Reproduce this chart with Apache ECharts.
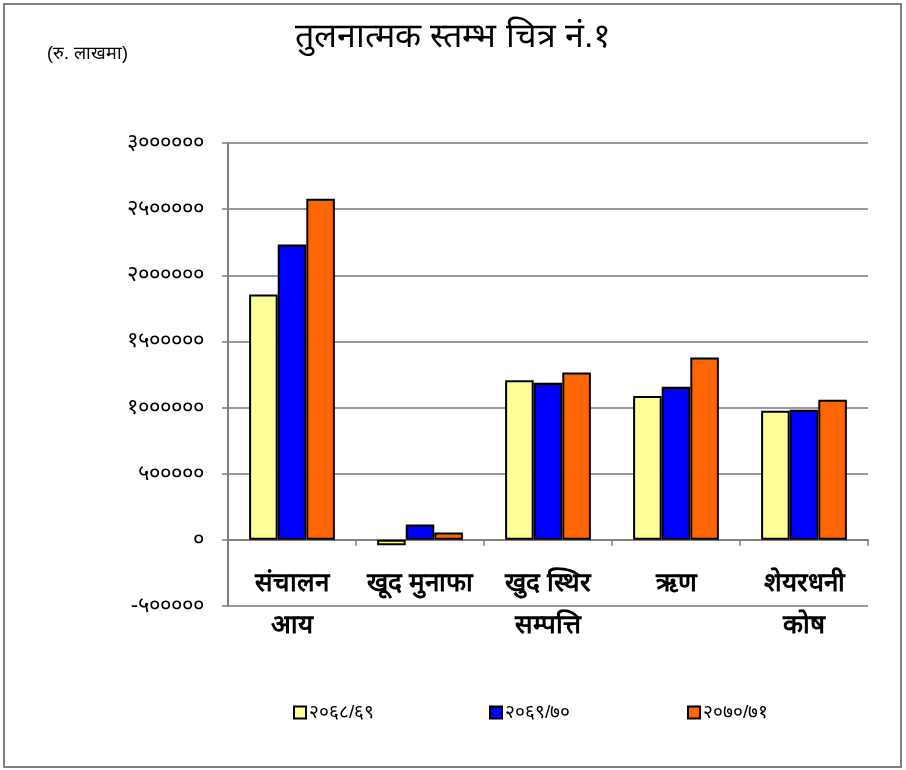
<!DOCTYPE html>
<html>
<head>
<meta charset="utf-8">
<script src="https://cdn.jsdelivr.net/npm/echarts@6/dist/echarts.min.js"></script>
<style>
html,body{margin:0;padding:0;background:#fff;}
#c{width:906px;height:770px;}
</style>
</head>
<body>
<div id="c"></div>
<script>
const titleText = 'तुलनात्मक स्तम्भ चित्र नं.१';
const unitText = '(रु. लाखमा)';
const categories = ['संचालन\nआय', 'खूद मुनाफा', 'खुद स्थिर\nसम्पत्ति', 'ऋण', 'शेयरधनी\nकोष'];
const seriesNames = ['२०६८/६९', '२०६९/७०', '२०७०/७१'];
const s2068 = [1855000, -40000, 1206000, 1087000, 976000];
const s2069 = [2232000, 116000, 1188000, 1158000, 984000];
const s2070 = [2578000, 55000, 1266000, 1378000, 1060000];
const yTickValues = [-500000, 0, 500000, 1000000, 1500000, 2000000, 2500000, 3000000];
const yTickLabels = ['-५०००००', '०', '५०००००', '१००००००', '१५०००००', '२००००००', '२५०००००', '३००००००'];
const colors = ['#FFFF99', '#0000FF', '#FF6600'];

const devFont = 'sans-serif';
const chart = echarts.init(document.getElementById('c'));
const seriesData = [s2068, s2069, s2070];
const legendLefts = [288, 484, 682];

chart.setOption({
  animation: false,
  backgroundColor: '#fff',
  title: {
    text: titleText, left: 'center', top: 16,
    textStyle: { fontFamily: devFont, fontSize: 34, fontWeight: 'normal', color: '#000' }
  },
  graphic: [
    { type: 'rect', shape: { x: 4, y: 4, width: 897, height: 763 }, style: { fill: 'none', stroke: '#808080', lineWidth: 2 }, z: 0 },
    { type: 'text', left: 47, top: 45, style: { text: unitText, font: '18px sans-serif', fill: '#000' } }
  ],
  legend: seriesNames.map((n, i) => ({
    data: [n], left: legendLefts[i], top: 698,
    itemWidth: 12, itemHeight: 12, itemGap: 0,
    textStyle: { fontFamily: devFont, fontSize: 19, color: '#000', padding: [0, 0, 0, -2] },
    icon: 'rect'
  })),
  grid: { left: 228, right: 38, top: 143, bottom: 164 },
  xAxis: {
    type: 'category', data: categories,
    axisLine: { onZero: true, lineStyle: { color: '#808080', width: 2 } },
    axisTick: { show: true, length: 6, lineStyle: { color: '#808080', width: 1.5 } },
    axisLabel: { margin: -43, fontFamily: devFont, fontSize: 26, fontWeight: 'bold', color: '#000', lineHeight: 42, verticalAlign: 'top', interval: 0 },
    splitLine: { show: false }
  },
  yAxis: {
    type: 'value', min: -500000, max: 3000000, interval: 500000,
    axisLine: { show: true, lineStyle: { color: '#808080', width: 2 } },
    axisTick: { show: true, length: 6, lineStyle: { color: '#808080', width: 1.5 } },
    axisLabel: {
      margin: 24, fontFamily: devFont, fontSize: 22, color: '#000',
      formatter: v => { const k = yTickValues.indexOf(v); return k >= 0 ? yTickLabels[k] : ''; }
    },
    splitLine: { show: true, lineStyle: { color: '#999999', width: 2 } }
  },
  series: seriesNames.map((n, i) => ({
    name: n, type: 'bar', data: seriesData[i],
    barGap: 0, barCategoryGap: '33%',
    itemStyle: { color: colors[i], borderColor: '#000', borderWidth: 2 }
  }))
});
</script>
</body>
</html>
